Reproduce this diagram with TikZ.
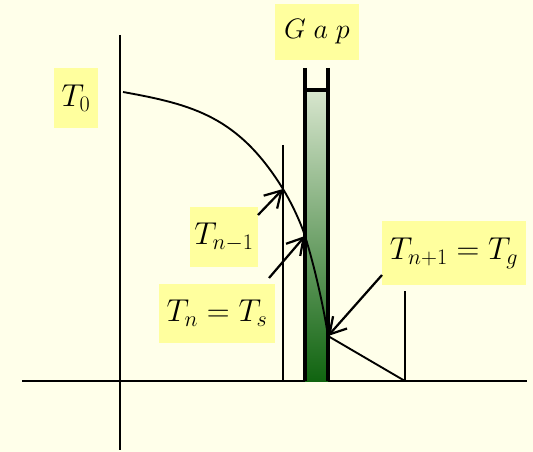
\documentclass[tikz,border=0pt]{standalone}
\usepackage{fix-cm}
\usepackage{tikz}
\usetikzlibrary{arrows.meta}
\definecolor{bgyellow}{RGB}{255,255,234}
\definecolor{boxyellow}{RGB}{255,255,158}
\definecolor{gaptop}{RGB}{216,230,206}
\definecolor{gapbot}{RGB}{16,100,16}
\tikzstyle{every path}=[line width=1.6pt,line join=round]
\tikzstyle{tbox}=[fill=boxyellow,inner sep=0pt,font=\fontsize{27}{32}\selectfont]

\begin{document}
\begin{tikzpicture}[x=0.03cm,y=-0.03cm]
		\tikzstyle{arrow} = [-{Straight Barb[length=4.8mm, width=5.6mm]},line width=1.9pt]
		\tikzstyle{wall} = [line width=3pt]
		
		% background and frame
		\fill[bgyellow] (0,0) rectangle (533,452);
		\useasboundingbox (0,0) rectangle (533,452);
		
		% axes
		\coordinate (xl) at (22,381);
		\coordinate (xr) at (527,381);
		\coordinate (yt) at (120,35);
		\coordinate (yb) at (120,450);
		\draw (xl) -- (xr);
		\draw (yt) -- (yb);
		
		% gap column
		\shade[top color=gaptop,bottom color=gapbot] (305,90) rectangle (328,381);
		\draw[wall] (305,68) -- (305,381);
		\draw[wall] (328,68) -- (328,381);
		\draw[wall] (305,90) -- (328,90);
		
		% planes n-1 and n+1
		\coordinate (pm) at (283,145);
		\coordinate (pmb) at (283,381);
		\coordinate (pp) at (405,291);
		\coordinate (ppb) at (405,381);
		\draw (pm) -- (pmb);
		\draw (pp) -- (ppb);
		
		% temperature profile
		\coordinate (c0) at (123,92);
		\coordinate (c1) at (283,189);
		\coordinate (c2) at (305,236);
		\coordinate (c3) at (328,336);
		\draw (c0) .. controls (193,104.6) and (238.4,116.6) .. (c1)
			.. controls (290.9,201.8) and (300.5,221.8) .. (c2)
			.. controls (314,264.5) and (323.5,306) .. (c3);
		\draw (c3) -- (ppb);
		
		% labels
		\node[tbox,minimum width=1.32cm,minimum height=1.8cm] (T0) at (76,98) {$T_0$};
		\node[tbox,minimum width=2.52cm,minimum height=1.68cm,font=\fontsize{24}{28}\selectfont] (gap) at (317,32) {$G\;a\;p$};
		\node[tbox,minimum width=2.04cm,minimum height=1.8cm] (Tnm) at (224,237) {$T_{n-1}$};
		\node[tbox,minimum width=3.48cm,minimum height=1.77cm] (Tn) at (217,313) {$T_n = T_s$};
		\node[tbox,minimum width=4.32cm,minimum height=1.92cm] (Tnp) at (454,253) {$T_{n+1} = T_g$};
		
		% arrows
		\coordinate (a1) at (258,215);
		\coordinate (a2) at (269,278);
		\coordinate (a3) at (382,275);
		\draw[arrow] (a1) -- (c1);
		\draw[arrow] (a2) -- (c2);
		\draw[arrow] (a3) -- (c3);
		
	\end{tikzpicture}
\end{document}
